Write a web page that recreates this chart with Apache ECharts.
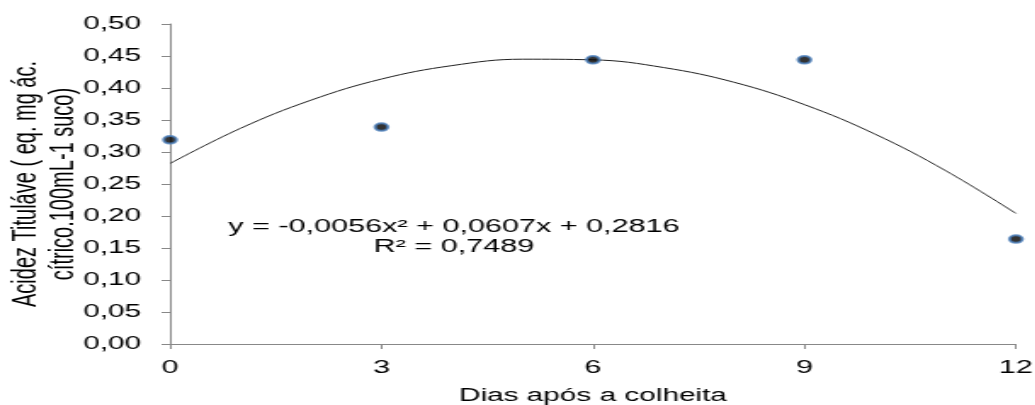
<!DOCTYPE html>
<html>
<head>
<meta charset="utf-8">
<script src="https://cdn.jsdelivr.net/npm/echarts@6/dist/echarts.min.js"></script>
<style>
  html, body { margin: 0; padding: 0; background: #fff; overflow: hidden; }
  #wrap { width: 1035px; height: 405px; overflow: hidden; }
  /* the original picture is stretched sideways, so draw narrow and widen it */
  #chart { width: 609px; height: 405px; transform: scaleX(1.7); transform-origin: 0 0; }
</style>
</head>
<body>
<div id="wrap"><div id="chart"></div></div>
<script>
// dias apos a colheita / acidez medida
var dias = [0, 3, 6, 9, 12];
var acidez = [0.319, 0.339, 0.444, 0.444, 0.164];

// linha de tendencia
var trendX = [0, 1, 2, 3, 4, 5, 6, 7, 8, 9, 10, 11, 12];
var trendY = [0.282, 0.337, 0.381, 0.414, 0.435, 0.445, 0.444, 0.432, 0.409, 0.374, 0.328, 0.271, 0.204];

var eqLines = ['y = -0,0056x² + 0,0607x + 0,2816', 'R² = 0,7489'];
var yTitle = ['Acidez Tituláve ( eq. mg ác.', 'cítrico.100mL-1 suco)'];
var xTitle = 'Dias após a colheita';

var font = 'Arial, "Liberation Sans", sans-serif';

var myChart = echarts.init(document.getElementById('chart'));

var option = {
    animation: false,
    backgroundColor: '#fff',
    grid: {
        left: 100,
        right: 11.4,
        top: 24,
        bottom: 61,
        outerBoundsMode: 'none',
        containLabel: false
    },
    xAxis: {
        type: 'value',
        min: 0,
        max: 12,
        interval: 3,
        name: xTitle,
        nameLocation: 'middle',
        nameGap: 43,
        nameMoveOverlap: false,
        nameTextStyle: { color: '#000', fontSize: 17.5, fontFamily: font },
        axisLine: { lineStyle: { color: '#888', width: 1 } },
        axisTick: { show: true, length: 5, lineStyle: { color: '#888' } },
        axisLabel: { color: '#000', fontSize: 18, fontFamily: font, margin: 15 },
        splitLine: { show: false }
    },
    yAxis: {
        type: 'value',
        min: 0,
        max: 0.5,
        interval: 0.05,
        name: yTitle.join('\n'),
        nameLocation: 'middle',
        nameGap: 52,
        nameMoveOverlap: false,
        nameTextStyle: { color: '#000', fontSize: 20, fontFamily: font, lineHeight: 22 },
        axisLine: { show: true, lineStyle: { color: '#888', width: 1 } },
        axisTick: { show: true, length: 5, lineStyle: { color: '#888' } },
        axisLabel: {
            color: '#000',
            fontSize: 17.5,
            fontFamily: font,
            margin: 17,
            formatter: function (v) {
                return v.toFixed(2).replace('.', ',');
            }
        },
        splitLine: { show: false }
    },
    series: [
        {
            type: 'line',
            data: trendX.map(function (x, i) { return [x, trendY[i]]; }),
            smooth: 0.4,
            symbol: 'none',
            lineStyle: { color: '#222', width: 1 },
            z: 2
        },
        {
            type: 'scatter',
            data: dias.map(function (x, i) { return [x, acidez[i]]; }),
            symbol: 'circle',
            symbolSize: 7.5,
            itemStyle: { color: '#000', borderColor: '#4a7ebb', borderWidth: 2 },
            z: 3
        }
    ],
    graphic: [
        {
            type: 'text',
            x: 267,
            y: 237,
            style: {
                text: eqLines.join('\n'),
                fill: '#000',
                font: '18px ' + font,
                lineHeight: 20,
                align: 'center',
                verticalAlign: 'middle'
            }
        }
    ]
};

myChart.setOption(option);
</script>
</body>
</html>
